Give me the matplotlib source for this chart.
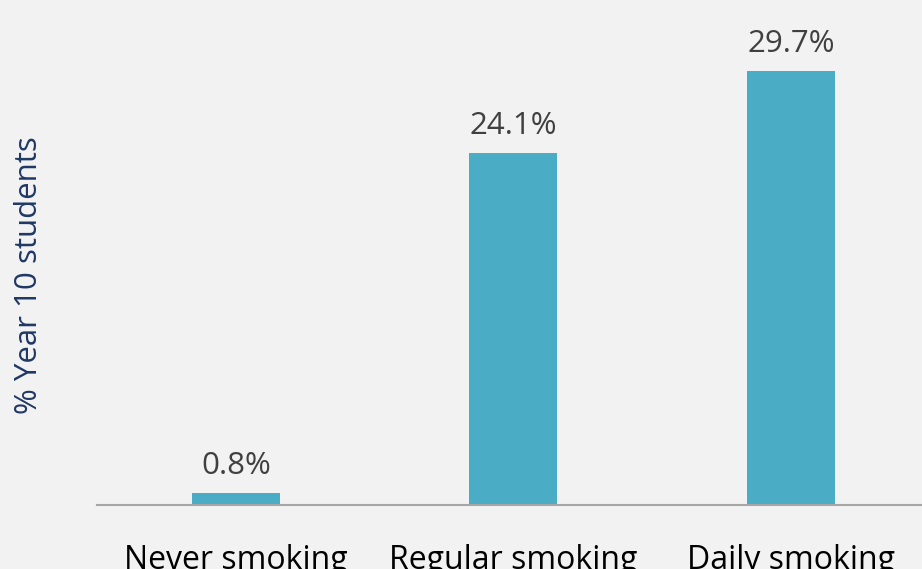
import matplotlib.pyplot as plt

categories = ["Never smoking", "Regular smoking", "Daily smoking"]
values = [0.8, 24.1, 29.7]
value_labels = ["0.8%", "24.1%", "29.7%"]

plt.rcParams['font.family'] = ['Open Sans', 'DejaVu Sans']

fig = plt.figure(figsize=(9.22, 5.69), dpi=100, facecolor='#F2F2F2')
ax = fig.add_axes([0.1052, 0.1125, 0.903, 0.8875])
ax.set_facecolor('#F2F2F2')

x = range(len(categories))
bars = ax.bar(x, values, width=0.317, color='#4BACC6')

for xi, v, lab in zip(x, values, value_labels):
    ax.text(xi, v + 1.3, lab, ha='center', va='baseline', fontsize=22.5, color='#404040')

ax.set_xlim(-0.5, 2.5)
ax.set_ylim(0, 34.56)
ax.set_xticks(list(x))
ax.set_xticklabels(categories, fontsize=23, color='black')
ax.tick_params(axis='x', length=0, pad=28)
ax.set_yticks([])

for side in ['top', 'right', 'left']:
    ax.spines[side].set_visible(False)
ax.spines['bottom'].set_color('#A6A6A6')
ax.spines['bottom'].set_linewidth(1.5)

fig.text(0.031, 0.517, "% Year 10 students", rotation=90, ha='center', va='center',
         fontsize=22.5, color='#1F3864')

fig.savefig('out.png', dpi=100, facecolor=fig.get_facecolor())
